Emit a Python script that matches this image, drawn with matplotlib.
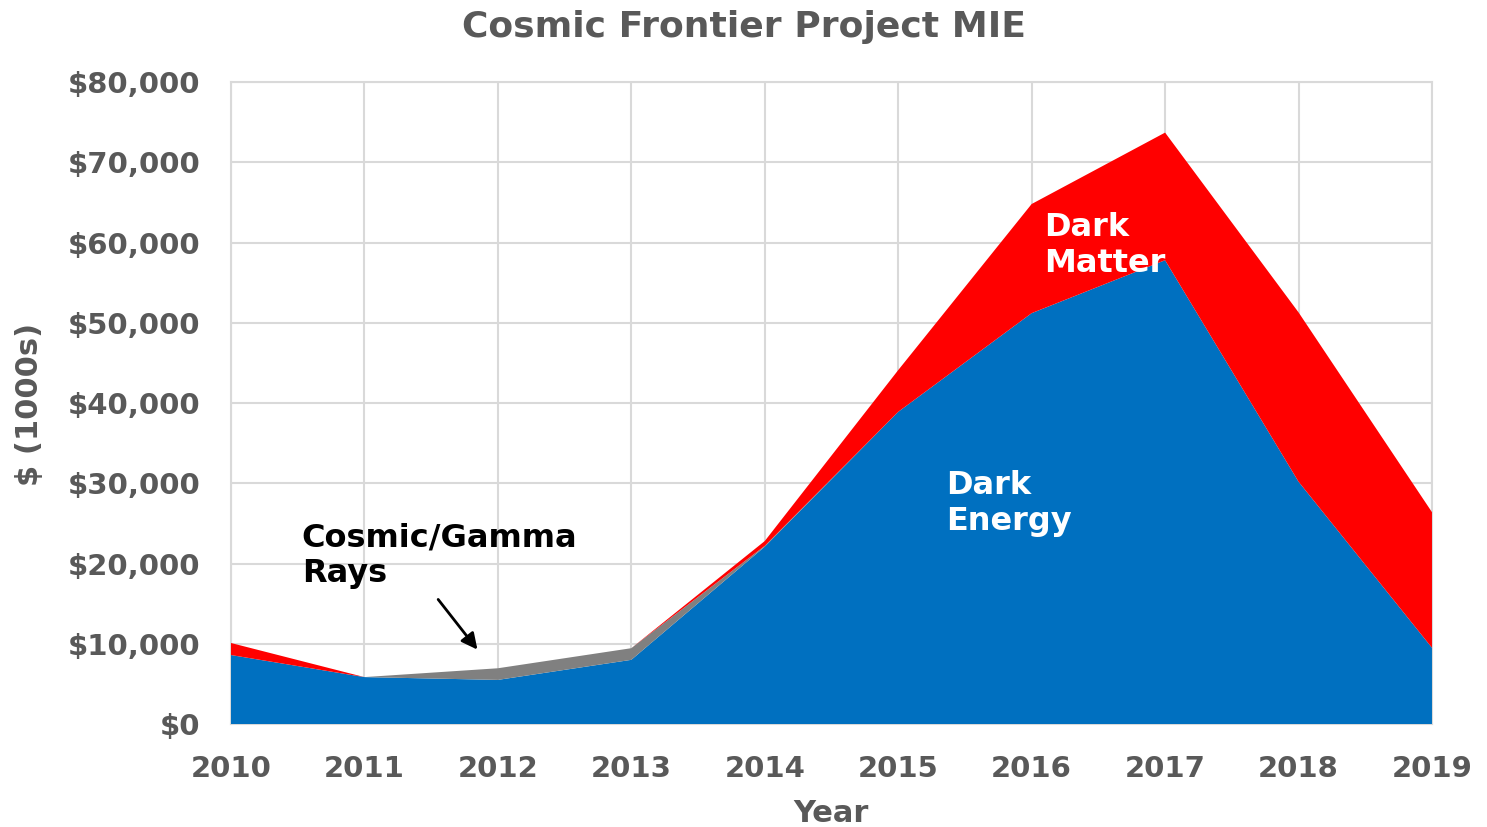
import matplotlib
matplotlib.use("Agg")
import matplotlib.pyplot as plt
from matplotlib.ticker import FuncFormatter

years = [2010, 2011, 2012, 2013, 2014, 2015, 2016, 2017, 2018, 2019]
dark_energy = [8600, 5850, 5500, 8000, 22100, 38900, 51200, 57800, 30200, 9500]
cosmic_gamma = [0, 0, 1450, 1450, 100, 0, 0, 0, 0, 0]
dark_matter = [1500, 0, 0, 0, 600, 5200, 13600, 15900, 21100, 16900]
y_ticks = [0, 10000, 20000, 30000, 40000, 50000, 60000, 70000, 80000]

c_blue = "#0070C0"
c_gray = "#808080"
c_red = "#FF0000"
txt = "#595959"

plt.rcParams['font.family'] = ['DejaVu Sans']
fig = plt.figure(figsize=(14.87, 8.27), dpi=100)
ax = fig.add_axes([0.1553, 0.1245, 0.963 - 0.1553, 0.9008 - 0.1245])

ax.stackplot(years, dark_energy, cosmic_gamma, dark_matter,
             colors=[c_blue, c_gray, c_red], linewidth=0, zorder=3)

ax.set_xlim(2010, 2019)
ax.set_ylim(0, 80000)
ax.set_xticks(years)
ax.set_yticks(y_ticks)
ax.yaxis.set_major_formatter(FuncFormatter(lambda v, p: "${:,.0f}".format(v)))
ax.grid(True, color="#D9D9D9", linewidth=1.5, zorder=0)
ax.set_axisbelow(True)
for s in ax.spines.values():
    s.set_color("#D9D9D9")
    s.set_linewidth(1.5)
ax.tick_params(length=0, labelsize=21, labelcolor=txt)
ax.tick_params(axis="y", pad=22)
ax.tick_params(axis="x", pad=22)
for lab in ax.get_xticklabels() + ax.get_yticklabels():
    lab.set_fontweight("bold")

ax.set_xlabel("Year", fontsize=22, fontweight="bold", color=txt)
ax.set_ylabel("$ (1000s)", fontsize=22, fontweight="bold", color=txt)
ax.xaxis.set_label_coords(0.5, -0.117)
ax.yaxis.set_label_coords(-0.156, 0.498)
fig.suptitle("Cosmic Frontier Project MIE", fontsize=26, fontweight="bold",
             color=txt, y=0.988)

ax.text(2016.09, 63800, "Dark\nMatter", color="white", fontsize=23,
        fontweight="bold", va="top", ha="left", zorder=5, linespacing=1.2)
ax.text(2015.36, 31600, "Dark\nEnergy", color="white", fontsize=23,
        fontweight="bold", va="top", ha="left", zorder=5, linespacing=1.2)
ax.text(2010.53, 25100, "Cosmic/Gamma\nRays", color="black", fontsize=23,
        fontweight="bold", va="top", ha="left", zorder=5, linespacing=1.2)
ax.annotate("", xy=(2011.86, 9000), xytext=(2011.54, 15800),
            arrowprops=dict(arrowstyle="-|>", color="black", lw=2,
                            mutation_scale=24), zorder=5)

fig.savefig("out.png", dpi=100)
